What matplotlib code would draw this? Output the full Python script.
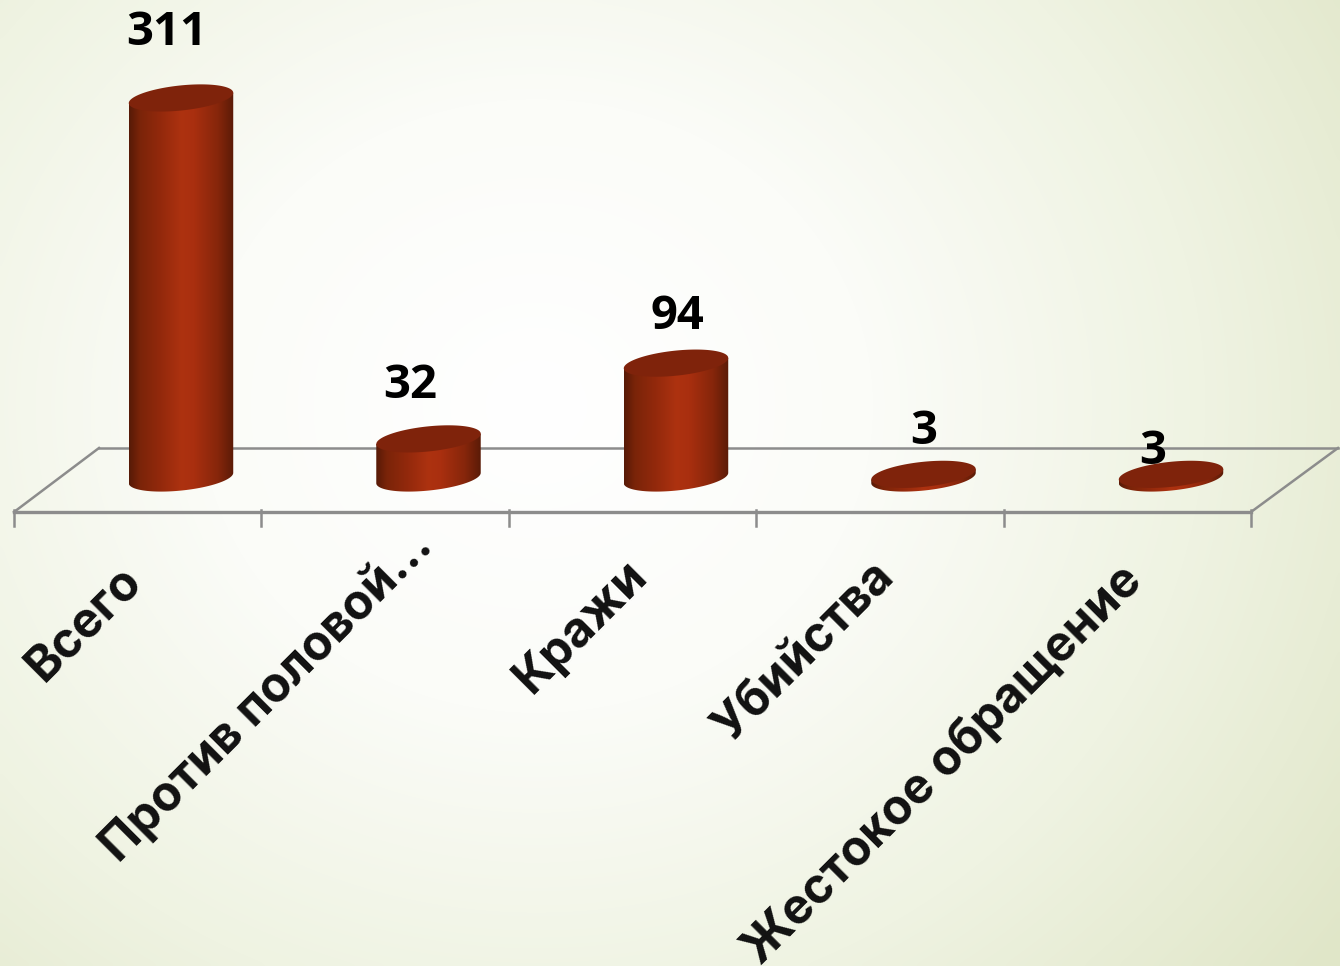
import numpy as np
import matplotlib
matplotlib.use('Agg')
import matplotlib.pyplot as plt
from matplotlib.colors import LinearSegmentedColormap
from matplotlib.patches import Polygon

categories = ['Всего', 'Против половой…', 'Кражи', 'Убийства', 'Жестокое обращение']
values = [311, 32, 94, 3, 3]

W, H = 1340, 966
x0, dx = 181.0, 247.5    # pixel of first category, pixels per category
base, sy = 478.0, 1.222  # pixel of zero, pixels per unit

fig = plt.figure(figsize=(W / 100, H / 100), dpi=100)
ax = fig.add_axes([0, 0, 1, 1])
xlim = (-x0 / dx, (W - x0) / dx)
ylim = ((base - H) / sy, base / sy)
ax.axis('off')

# background: white in the middle, pale green towards the edges
yy, xx = np.mgrid[0:1:200j, 0:1:280j]
r = np.sqrt(((xx - 0.40) / 0.75) ** 2 + ((yy - 0.42) / 0.95) ** 2)
bg = LinearSegmentedColormap.from_list('bg', ['#ffffff', '#fbfcf8', '#eff3e2', '#e0e6c8'])
ax.imshow(np.clip(r, 0, 1), cmap=bg, vmin=0, vmax=1, aspect='auto', origin='upper',
          extent=[*xlim, *ylim], zorder=0, interpolation='bicubic')


def px(x, y):
    # pixel position to data position
    return (np.asarray(x) - x0) / dx, (base - np.asarray(y)) / sy


# floor
grey = '#8c8c8c'
ax.plot(*px([14, 1251], [512, 512]), color=grey, lw=2.4, zorder=1)
ax.plot(*px([99, 1338], [448, 448]), color=grey, lw=1.8, zorder=1)
ax.plot(*px([14, 99], [512, 448]), color=grey, lw=1.8, zorder=1)
ax.plot(*px([1251, 1338], [512, 448]), color=grey, lw=1.8, zorder=1)
for i in range(len(categories) + 1):
    ax.plot(*px([14 + 247.4 * i] * 2, [510, 526]), color=grey, lw=1.8, zorder=1)

body = LinearSegmentedColormap.from_list(
    'body', [(0, '#571a07'), (0.1, '#7a2409'), (0.3, '#93290c'), (0.5, '#ad3210'),
             (0.62, '#a92f0f'), (0.85, '#86260b'), (1, '#5b1b07')])
A, B, ANG = 52.5, 12.5, np.radians(6.0)


def ellipse(t):
    # offset from the ellipse centre in pixels, y pointing down
    return (A * np.cos(t) * np.cos(ANG) + B * np.sin(t) * np.sin(ANG),
            -A * np.cos(t) * np.sin(ANG) + B * np.sin(t) * np.cos(ANG))


t_right = np.arctan2(B * np.sin(ANG), A * np.cos(ANG))
t_low = np.linspace(t_right, t_right + np.pi, 91)
t_all = np.linspace(0, 2 * np.pi, 181)
rx, ry = ellipse(t_right)

# hand placed value labels, pixel offsets from the bar top
label_dx = [-14, -18, 1, 0, -18]
label_dy = [-65, -53, -47, -43, -23]
# hand placed category labels, pixel offsets from the default spot
name_dx = [-13, 30, -2, -2, -3]
name_dy = [-1, -36, -6, -5, -1]

for i, v in enumerate(values):
    cx = x0 + dx * i
    top = base - v * sy
    ox, oy = ellipse(t_low)
    side_x = np.r_[cx + ox, cx - rx, cx + rx]
    side_y = np.r_[base + oy, top - ry, top + ry]
    side = Polygon(np.column_stack(px(side_x, side_y)), closed=True, fc='none', ec='none', zorder=2)
    ax.add_patch(side)
    (xa, xb), (ya, yb) = px([cx - rx, cx + rx], [base + 20, top - 20])
    im = ax.imshow(np.linspace(0, 1, 128)[None, :], cmap=body, aspect='auto',
                   extent=[xa, xb, ya, yb], zorder=2)
    im.set_clip_path(side)
    ex, ey = ellipse(t_all)
    ax.add_patch(Polygon(np.column_stack(px(cx + ex, top + ey)), closed=True,
                         fc='#7f230b', ec='none', zorder=3))
    lx, ly = px(cx + label_dx[i], top + label_dy[i])
    ax.text(lx, ly, str(v), fontsize=34, fontweight='bold', family='Open Sans',
            ha='center', va='center', color='black', zorder=5)

ax.set_xlim(*xlim)
ax.set_ylim(*ylim)

# category labels, anchored at their upper right end
for i, name in enumerate(categories):
    lx, ly = px(x0 + dx * i - 50 + name_dx[i], 558 + name_dy[i])
    ax.text(lx, ly, name, rotation=45, rotation_mode='anchor', ha='right', va='top',
            fontsize=35, fontweight='bold', family='Inter', color='#111111', zorder=5)

fig.savefig('out.png', dpi=100)
